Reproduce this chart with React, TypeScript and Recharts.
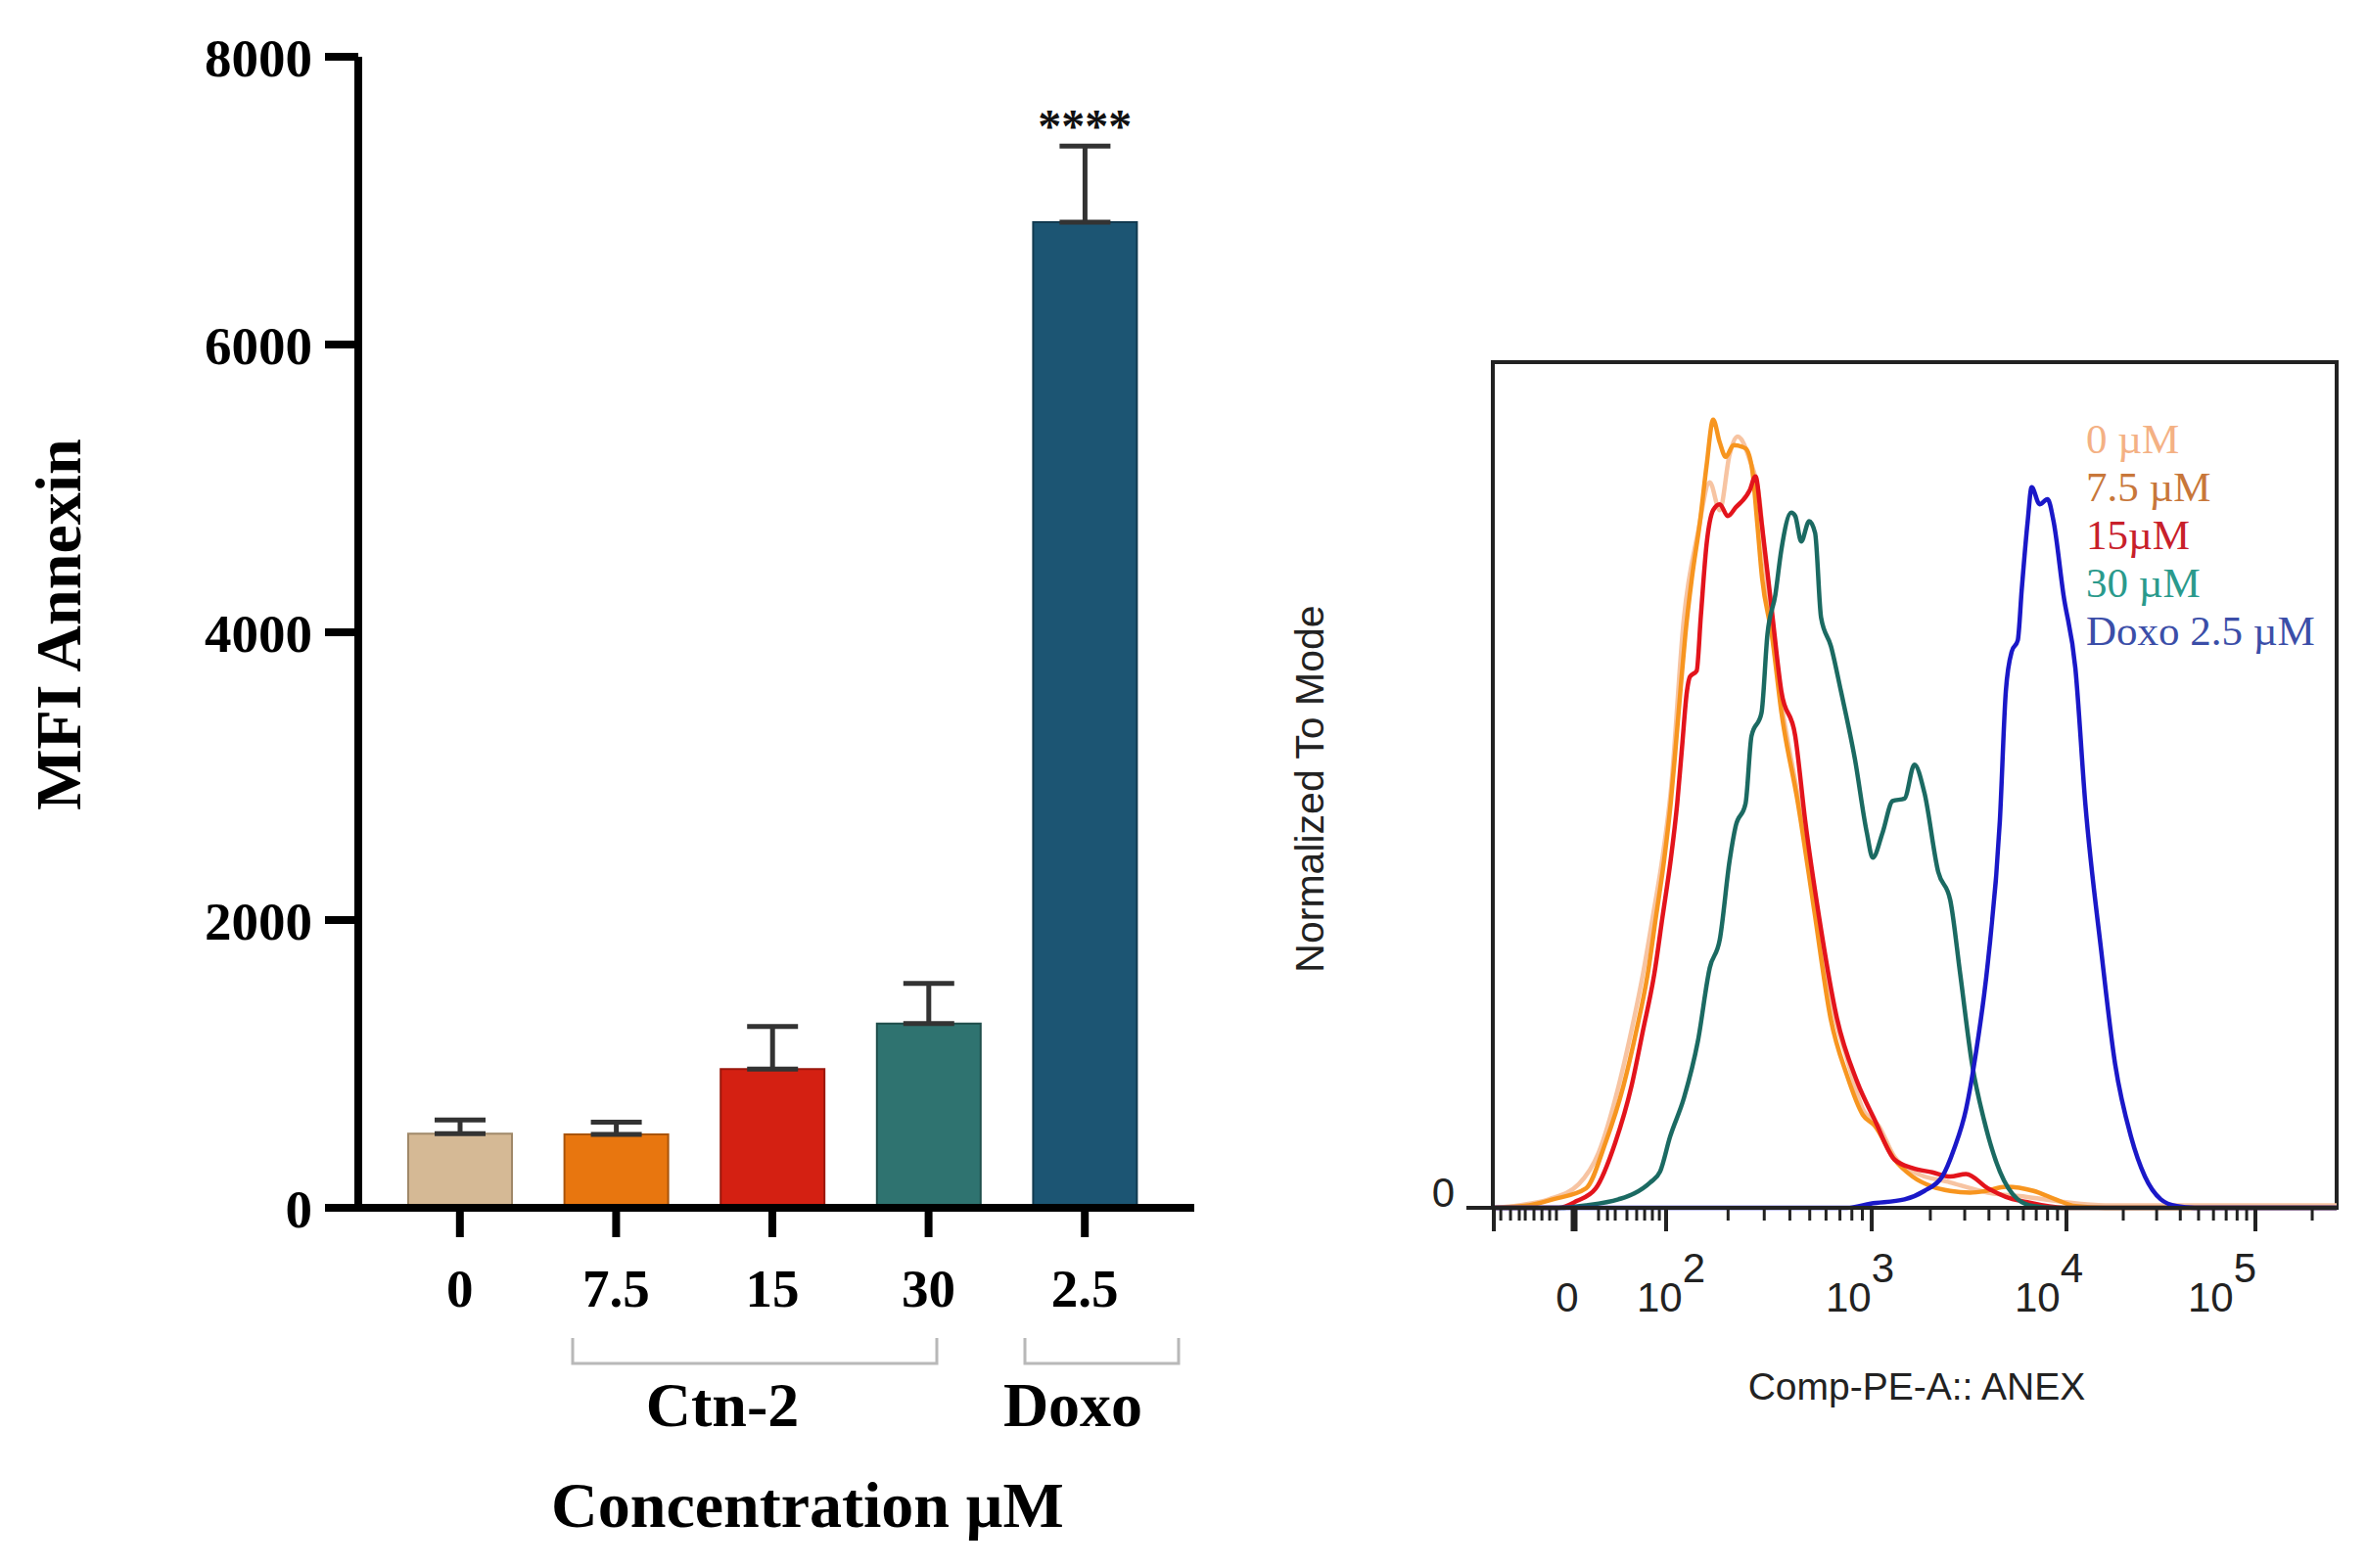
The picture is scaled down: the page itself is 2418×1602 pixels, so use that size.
import React from 'react';
import {
  BarChart,
  Bar,
  XAxis,
  YAxis,
  Cell,
  ErrorBar,
  ReferenceDot,
  LineChart,
  Line,
  ReferenceArea,
} from 'recharts';

const SERIF = '"Liberation Serif", "Times New Roman", serif';
const SANS = '"Liberation Sans", Arial, sans-serif';

// ---- left panel: annexin MFI per treatment ----
const doses = ['0', '7.5', '15', '30', '2.5'];
const mfiMean = [515, 510, 965, 1280, 6850];
const mfiSd = [95, 85, 295, 280, 530];
const sigMarks = ['', '', '', '', '****'];
const barColors = ['#d5b995', '#e8760f', '#d42012', '#2f7370', '#1c5573'];
const barEdges = ['#a08868', '#a9540a', '#9a170c', '#1f4e4b', '#123a50'];
const mfiTicks = [0, 2000, 4000, 6000, 8000];

// ---- right panel: flow histograms (x = position on the biex axis, in decades) ----
const majorTicks = [1.123, 1.527, 1.99, 3.025, 4.005, 4.956];
const majorLabels = ['', '0', '10', '10', '10', '10'];
const majorPowers = ['', '', '2', '3', '4', '5'];
const labelShift = [0, -7, 5, -12, -18, -34]; // labels sit a bit off their ticks in the original
const linearMinor = [1.158, 1.207, 1.251, 1.281, 1.325, 1.365, 1.404, 1.438, 1.65, 1.695, 1.734, 1.793, 1.842, 1.882, 1.921, 1.956];
const decadeStart = [1.99, 3.025, 4.005, 4.956];
const decadeSpan = [1.035, 0.98, 0.951, 0.951];
const xMin = 1.118;
const xMax = 5.365;

const hist0uM = [
  [1.118, 0], [1.25, 0.3], [1.4, 1.0], [1.55, 2.8], [1.65, 6.5], [1.751, 14.4], [1.816, 21.0], [1.874, 27.7],
  [1.923, 34.4], [1.97, 41.1], [2.013, 49.1], [2.08, 69.8], [2.15, 79.8], [2.21, 85.8], [2.26, 82.5], [2.31, 89.1],
  [2.35, 91.2], [2.41, 88.5], [2.46, 83.8], [2.5, 73.1], [2.57, 59.8], [2.65, 49.1], [2.74, 35.7], [2.82, 24.4],
  [2.9, 17.7], [2.98, 11.7], [3.06, 9.7], [3.14, 6.0], [3.23, 4.3], [3.42, 3.0], [3.61, 1.8], [3.8, 1.3],
  [3.99, 0.7], [4.2, 0.3], [5.365, 0.3],
];
const hist7_5uM = [
  [1.118, 0], [1.3, 0.3], [1.42, 1.0], [1.587, 2.3], [1.685, 7.7], [1.775, 14.4], [1.841, 21.0], [1.898, 27.7],
  [1.939, 34.4], [1.98, 41.1], [2.013, 47.8], [2.038, 54.4], [2.062, 61.1], [2.087, 67.8], [2.12, 74.5], [2.161, 81.2],
  [2.194, 87.8], [2.227, 93.2], [2.26, 90.5], [2.29, 88.8], [2.33, 90.2], [2.39, 89.8], [2.424, 87.2], [2.448, 81.2],
  [2.473, 74.5], [2.522, 67.8], [2.571, 58.5], [2.654, 47.8], [2.736, 35.1], [2.818, 22.4], [2.9, 15.7], [2.98, 11.0],
  [3.04, 9.7], [3.14, 5.7], [3.23, 3.7], [3.33, 2.5], [3.42, 2.0], [3.52, 1.8], [3.6, 2.0], [3.7, 2.5],
  [3.84, 2.0], [3.95, 1.0], [4.05, 0.2], [4.2, 0], [5.365, 0],
];
const hist15uM = [
  [1.118, 0], [1.45, 0], [1.54, 0.8], [1.636, 2.3], [1.734, 7.7], [1.816, 14.4], [1.874, 21.0], [1.931, 27.7],
  [1.972, 34.4], [2.013, 41.1], [2.046, 47.8], [2.07, 54.4], [2.095, 61.1], [2.11, 62.8], [2.144, 63.5], [2.165, 70.0],
  [2.194, 78.5], [2.227, 82.5], [2.26, 83.2], [2.3, 81.8], [2.34, 82.8], [2.41, 84.8], [2.44, 86.5], [2.47, 81.2],
  [2.52, 71.1], [2.57, 61.1], [2.64, 55.8], [2.69, 45.8], [2.76, 34.4], [2.85, 22.4], [2.95, 15.0], [3.04, 10.4],
  [3.14, 5.7], [3.23, 4.7], [3.33, 4.2], [3.42, 3.7], [3.5, 4.0], [3.61, 2.3], [3.7, 1.3], [3.8, 0.7],
  [3.99, 0], [5.365, 0],
];
const hist30uM = [
  [1.118, 0], [1.45, 0], [1.59, 0.3], [1.75, 1.0], [1.83, 1.7], [1.91, 3.0], [1.96, 4.3], [2.01, 8.4],
  [2.08, 13.0], [2.15, 19.7], [2.21, 28.4], [2.26, 31.7], [2.31, 41.1], [2.34, 45.1], [2.39, 47.8], [2.42, 55.8],
  [2.47, 58.5], [2.5, 67.8], [2.54, 72.5], [2.57, 77.8], [2.62, 82.2], [2.64, 81.8], [2.67, 78.8], [2.71, 81.2],
  [2.74, 79.8], [2.77, 69.8], [2.82, 66.4], [2.87, 61.1], [2.94, 53.1], [3.0, 44.4], [3.03, 41.4], [3.08, 44.4],
  [3.13, 48.1], [3.19, 48.4], [3.24, 52.4], [3.29, 49.1], [3.36, 39.7], [3.42, 36.4], [3.47, 27.7], [3.53, 17.0],
  [3.59, 10.4], [3.67, 4.3], [3.76, 1.0], [3.84, 0.2], [3.95, 0], [5.365, 0],
];
const histDoxo = [
  [1.118, 0], [2.9, 0], [3.02, 0.5], [3.19, 1.0], [3.29, 2.0], [3.38, 3.7], [3.44, 7.0], [3.5, 11.7],
  [3.55, 18.4], [3.61, 29.1], [3.67, 45.8], [3.7, 61.1], [3.73, 65.8], [3.76, 67.1], [3.78, 73.1], [3.81, 81.2],
  [3.83, 85.2], [3.87, 83.2], [3.91, 83.8], [3.94, 81.2], [3.99, 72.5], [4.05, 63.8], [4.1, 47.8], [4.18, 30.4],
  [4.25, 17.0], [4.33, 8.4], [4.4, 3.7], [4.48, 1.0], [4.56, 0.2], [4.65, 0], [5.365, 0],
];

const legendNames = ['0 \u00b5M', '7.5 \u00b5M', '15\u00b5M', '30 \u00b5M', 'Doxo 2.5 \u00b5M'];
const legendColors = ['#f4b184', '#c8773a', '#c8202a', '#2a9a8c', '#3b4ea8'];

const barData = doses.map((d, i) => ({
  dose: d,
  mfi: mfiMean[i],
  sd: [0, mfiSd[i]],
  sig: sigMarks[i],
}));

const toPoints = (arr: number[][]) => arr.map(([x, y]) => ({ x, y }));

const logMinor: number[] = [];
decadeStart.forEach((s, i) => {
  for (let k = 2; k <= 9; k++) {
    const p = s + Math.log10(k) * decadeSpan[i];
    if (p < xMax) logMinor.push(Number(p.toFixed(3)));
  }
});
const allHistTicks = [...majorTicks, ...linearMinor, ...logMinor].sort((a, b) => a - b);

const HistTick = (props: any) => {
  const { x, y, payload } = props;
  const i = majorTicks.indexOf(payload.value);
  if (i < 0) {
    return <line x1={x} x2={x} y1={y} y2={y + 13} stroke="#222" strokeWidth={3} />;
  }
  const lx = x + labelShift[i];
  return (
    <g>
      <line x1={x} x2={x} y1={y} y2={y + 24} stroke="#222" strokeWidth={i === 1 ? 7 : 4} />
      {majorLabels[i] === '0' && (
        <text x={lx} y={y + 106} textAnchor="middle" fontFamily={SANS} fontSize={42} fill="#222">0</text>
      )}
      {majorPowers[i] && (
        <text x={lx} y={y + 106} textAnchor="middle" fontFamily={SANS} fontSize={42} fill="#222">
          {majorLabels[i]}
          <tspan dy={-30}>{majorPowers[i]}</tspan>
        </text>
      )}
    </g>
  );
};

const ZeroTick = (props: any) => {
  const { x, y } = props;
  return (
    <text x={x} y={y - 16} textAnchor="end" dominantBaseline="central" fontFamily={SANS} fontSize={42} fill="#222">
      0
    </text>
  );
};

const App: React.FC = () => {
  return (
    <div style={{ position: 'absolute', left: 0, top: 0, width: 2418, height: 1602, background: '#fff', overflow: 'hidden' }}>
      <div style={{ position: 'absolute', left: 0, top: 0 }}>
        <BarChart width={1250} height={1602} data={barData} margin={{ top: 58, right: 30, left: 0, bottom: 248 }}>
          <XAxis
            dataKey="dose"
            height={120}
            padding={{ left: 24, right: 32 }}
            interval={0}
            axisLine={{ stroke: '#000', strokeWidth: 8 }}
            tickLine={{ stroke: '#000', strokeWidth: 8 }}
            tickSize={30}
            tickMargin={32}
            tick={{ fontFamily: SERIF, fontSize: 55, fontWeight: 'bold', fill: '#000' }}
          />
          <YAxis
            width={366}
            domain={[0, 8000]}
            ticks={mfiTicks}
            interval={0}
            axisLine={{ stroke: '#000', strokeWidth: 8 }}
            tickLine={{ stroke: '#000', strokeWidth: 8 }}
            tickSize={34}
            tickMargin={13}
            tick={{ fontFamily: SERIF, fontSize: 55, fontWeight: 'bold', fill: '#000' }}
          />
          <Bar dataKey="mfi" barSize={106} strokeWidth={2} isAnimationActive={false}>
            {barData.map((d, i) => (
              <Cell key={d.dose} fill={barColors[i]} stroke={barEdges[i]} />
            ))}
            <ErrorBar dataKey="sd" direction="y" width={26} stroke="#333" strokeWidth={5} isAnimationActive={false} />
          </Bar>
          {barData
            .filter((d) => d.sig)
            .map((d) => (
              <ReferenceDot
                key={d.dose}
                x={d.dose}
                y={d.mfi + d.sd[1]}
                r={0}
                stroke="none"
                label={{ value: d.sig, position: 'top', offset: 4, fontFamily: SERIF, fontSize: 48, fontWeight: 'bold', fill: '#111' }}
              />
            ))}
        </BarChart>
      </div>

      <div style={{ position: 'absolute', left: 1280, top: 0 }}>
        <LineChart width={1138} height={1602} margin={{ top: 370, right: 31, left: 0, bottom: 218 }}>
          <XAxis
            dataKey="x"
            type="number"
            domain={[xMin, xMax]}
            allowDataOverflow
            ticks={allHistTicks}
            interval={0}
            height={150}
            axisLine={{ stroke: '#222', strokeWidth: 4 }}
            tickLine={false}
            tickSize={0}
            tickMargin={0}
            tick={<HistTick />}
          />
          <YAxis
            type="number"
            width={245}
            domain={[0, 100]}
            ticks={[0]}
            interval={0}
            axisLine={{ stroke: '#222', strokeWidth: 4 }}
            tickLine={{ stroke: '#222', strokeWidth: 4 }}
            tickSize={27}
            tickMargin={12}
            tick={<ZeroTick />}
          />
          <ReferenceArea x1={xMin} x2={xMax} y1={0} y2={100} fill="none" stroke="#222" strokeWidth={4} ifOverflow="visible" />
          <Line data={toPoints(hist0uM)} dataKey="y" type="monotone" stroke="#f7c4a2" strokeWidth={4.5} dot={false} isAnimationActive={false} />
          <Line data={toPoints(hist7_5uM)} dataKey="y" type="monotone" stroke="#f7951f" strokeWidth={4.5} dot={false} isAnimationActive={false} />
          <Line data={toPoints(hist15uM)} dataKey="y" type="monotone" stroke="#e3141c" strokeWidth={4.5} dot={false} isAnimationActive={false} />
          <Line data={toPoints(hist30uM)} dataKey="y" type="monotone" stroke="#1b6a62" strokeWidth={4.5} dot={false} isAnimationActive={false} />
          <Line data={toPoints(histDoxo)} dataKey="y" type="monotone" stroke="#1a18c8" strokeWidth={4.5} dot={false} isAnimationActive={false} />
        </LineChart>
      </div>

      {/* titles, group brackets and the histogram key */}
      <svg width={2418} height={1602} style={{ position: 'absolute', left: 0, top: 0, pointerEvents: 'none' }}>
        <text transform="translate(82,638) rotate(-90)" textAnchor="middle" fontFamily={SERIF} fontSize={66} fontWeight="bold" fill="#000">
          MFI Annexin
        </text>
        <path d="M585,1367 V1393 H957 V1367" fill="none" stroke="#b8b8b8" strokeWidth={3} />
        <path d="M1047,1367 V1393 H1204 V1367" fill="none" stroke="#b8b8b8" strokeWidth={3} />
        <text x={738} y={1457} textAnchor="middle" fontFamily={SERIF} fontSize={64} fontWeight="bold" fill="#000">Ctn-2</text>
        <text x={1096} y={1457} textAnchor="middle" fontFamily={SERIF} fontSize={64} fontWeight="bold" fill="#000">Doxo</text>
        <text x={825} y={1560} textAnchor="middle" fontFamily={SERIF} fontSize={66} fontWeight="bold" fill="#000">
          Concentration {'\u00b5'}M
        </text>

        <text transform="translate(1352,806) rotate(-90)" textAnchor="middle" fontFamily={SANS} fontSize={41} fill="#222">
          Normalized To Mode
        </text>
        <text x={1958} y={1430} textAnchor="middle" fontFamily={SANS} fontSize={39} fill="#222">
          Comp-PE-A:: ANEX
        </text>
        {legendNames.map((n, i) => (
          <text key={n} x={2131} y={463 + i * 49} fontFamily={SERIF} fontSize={43} fill={legendColors[i]}>
            {n}
          </text>
        ))}
      </svg>
    </div>
  );
};

export default App;
